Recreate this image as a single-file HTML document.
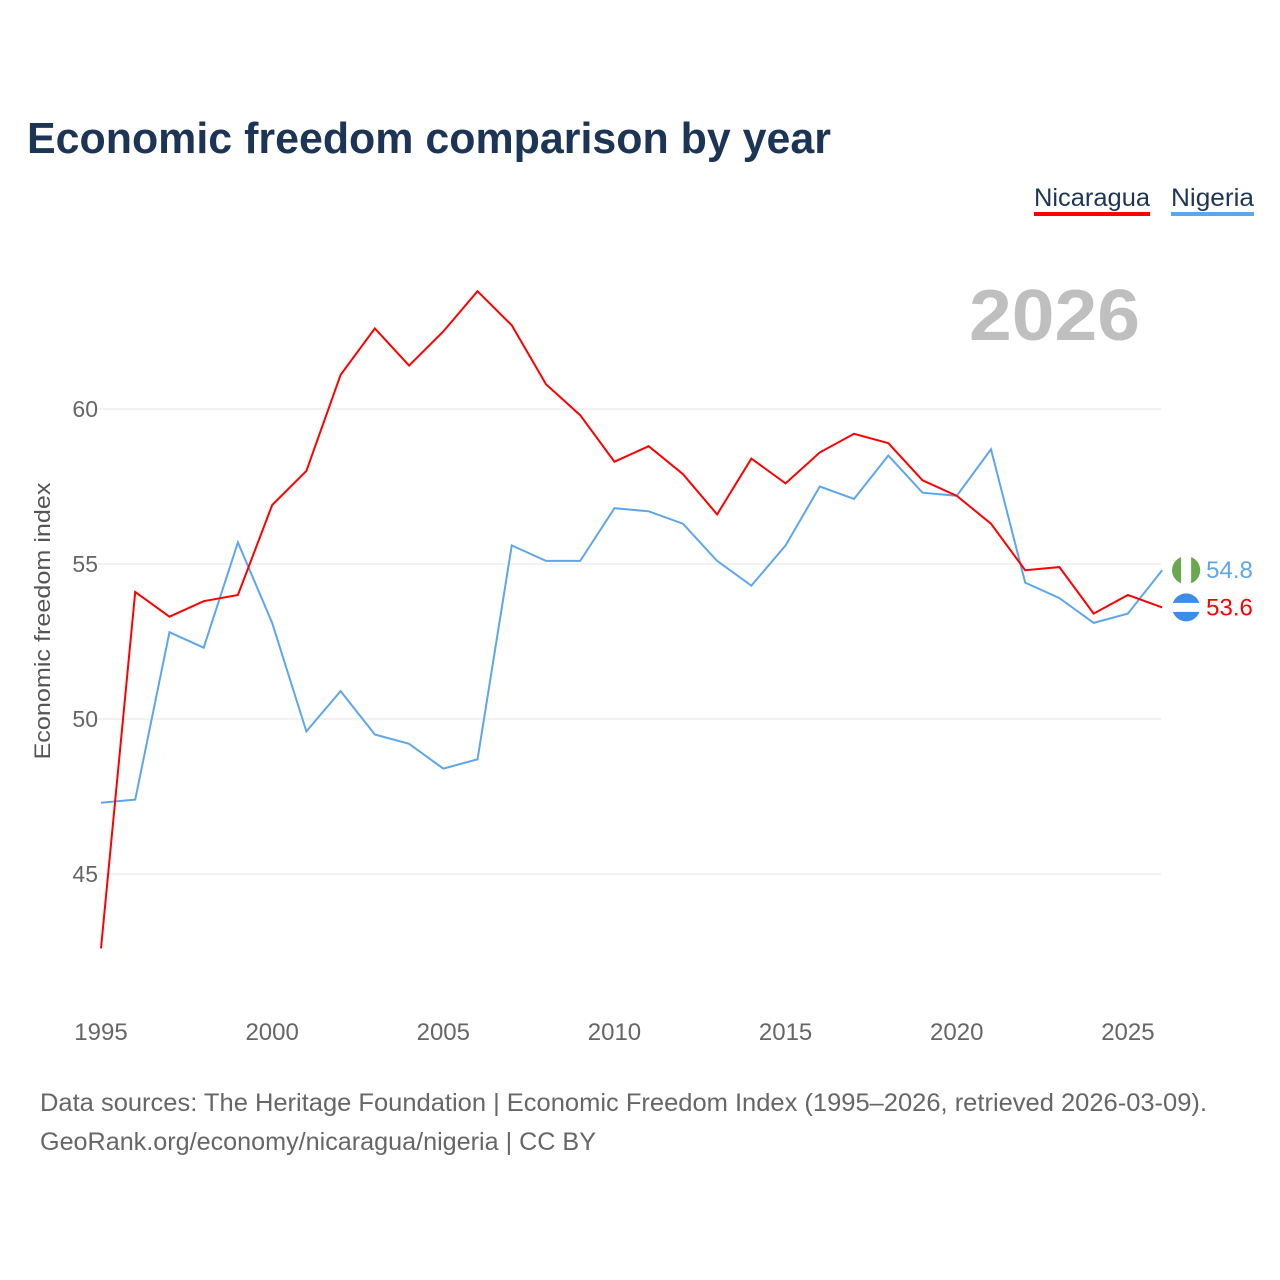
<!DOCTYPE html>
<html><head><meta charset="utf-8"><style>
body{margin:0;background:#fff;font-family:"Liberation Sans",sans-serif;}
#wrap{position:relative;width:1280px;height:1280px;overflow:hidden;}
</style></head><body>
<div id="wrap">
<svg id="chart" width="1280" height="1280">
<text x="27" y="153" font-size="44" font-weight="bold" fill="#1c3557" textLength="804" lengthAdjust="spacingAndGlyphs">Economic freedom comparison by year</text>
<g><text x="1034" y="206" font-size="25" fill="#1c3557" textLength="116" lengthAdjust="spacingAndGlyphs">Nicaragua</text><rect x="1034" y="212" width="116" height="4" fill="#ff0000"/></g>
<g><text x="1171" y="206" font-size="25" fill="#1c3557" textLength="83" lengthAdjust="spacingAndGlyphs">Nigeria</text><rect x="1171" y="212" width="83" height="4" fill="#5ea6eb"/></g>
<text x="969" y="340" font-size="72" font-weight="bold" fill="#bfbfbf" textLength="171" lengthAdjust="spacingAndGlyphs">2026</text>
<text transform="translate(50,621) rotate(-90)" font-size="22" fill="#555" text-anchor="middle" textLength="277" lengthAdjust="spacingAndGlyphs">Economic freedom index</text>
<g id="grid"></g><g id="lines"></g><g id="labels"></g>
<text x="40" y="1111" font-size="25" fill="#666" textLength="1167" lengthAdjust="spacingAndGlyphs">Data sources: The Heritage Foundation | Economic Freedom Index (1995–2026, retrieved 2026-03-09).</text>
<text x="40" y="1150" font-size="25" fill="#666" textLength="556" lengthAdjust="spacingAndGlyphs">GeoRank.org/economy/nicaragua/nigeria | CC BY</text>
</svg></div>
<script>
const years=[1995,1996,1997,1998,1999,2000,2001,2002,2003,2004,2005,2006,2007,2008,2009,2010,2011,2012,2013,2014,2015,2016,2017,2018,2019,2020,2021,2022,2023,2024,2025,2026];
const nicaragua=[42.6,54.1,53.3,53.8,54.0,56.9,58.0,61.1,62.6,61.4,62.5,63.8,62.7,60.8,59.8,58.3,58.8,57.9,56.6,58.4,57.6,58.6,59.2,58.9,57.7,57.2,56.3,54.8,54.9,53.4,54.0,53.6];
const nigeria=[47.3,47.4,52.8,52.3,55.7,53.1,49.6,50.9,49.5,49.2,48.4,48.7,55.6,55.1,55.1,56.8,56.7,56.3,55.1,54.3,55.6,57.5,57.1,58.5,57.3,57.2,58.7,54.4,53.9,53.1,53.4,54.8];
const yTicks=[45,50,55,60];
const xTicks=[1995,2000,2005,2010,2015,2020,2025];
const NS="http://www.w3.org/2000/svg";
const xs=y=>101+(y-1995)*34.23;
const ys=v=>409+(60-v)*31;
function mk(t,a,p){const e=document.createElementNS(NS,t);for(const k in a)e.setAttribute(k,a[k]);p.appendChild(e);return e;}
const grid=document.getElementById('grid'),lines=document.getElementById('lines'),labels=document.getElementById('labels');
yTicks.forEach(v=>{
 const l=mk('line',{x1:98,x2:1161,y1:ys(v),y2:ys(v),stroke:'#e6e6e6','stroke-width':1},grid);
 
 
 const t=mk('text',{x:98,y:ys(v)+8,'font-size':23,fill:'#666','text-anchor':'end'},grid);t.textContent=v;
 
 
});
xTicks.forEach(v=>{
 const t=mk('text',{x:xs(v),y:1040,'font-size':24,fill:'#666','text-anchor':'middle'},grid);t.textContent=v;
 
 
});
function series(d,c,n){
 const p=mk('polyline',{points:d.map((v,i)=>xs(years[i])+','+ys(v)).join(' '),fill:'none',stroke:c,'stroke-width':2},lines);
 
 
 const last=d[d.length-1],cx=xs(years[years.length-1])+24,cy=ys(last);
 const c1=mk('circle',{cx:cx,cy:cy,r:14,fill:n=='nigeria'?'#fff':'#3a8de8'},labels);
 
 
 if(n=='nigeria'){mk('path',{d:`M${cx-5},${cy-13.1} A14,14 0 0 0 ${cx-5},${cy+13.1}Z`,fill:'#6aa84f'},labels);mk('path',{d:`M${cx+5},${cy-13.1} A14,14 0 0 1 ${cx+5},${cy+13.1}Z`,fill:'#6aa84f'},labels);}
 else{mk('rect',{x:cx-14,y:cy-4.5,width:28,height:9,fill:'#fff'},labels);}
 const t=mk('text',{x:cx+20,y:cy+8,'font-size':24,fill:c},labels);t.textContent=last.toFixed(1);
 
 
}
series(nigeria,'#5ea6eb','nigeria');
series(nicaragua,'#ff0000','nicaragua');
</script>
</body></html>
